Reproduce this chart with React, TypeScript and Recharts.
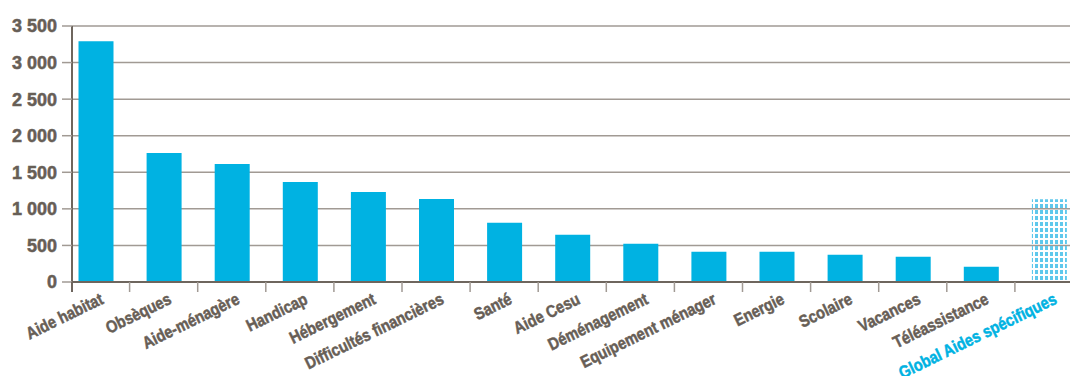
import React from 'react';
import { BarChart, Bar, Cell, XAxis, YAxis, CartesianGrid } from 'recharts';

const categories = [
  'Aide habitat',
  'Obsèques',
  'Aide-ménagère',
  'Handicap',
  'Hébergement',
  'Difficultés financières',
  'Santé',
  'Aide Cesu',
  'Déménagement',
  'Equipement ménager',
  'Energie',
  'Scolaire',
  'Vacances',
  'Téléassistance',
  'Global Aides spécifiques',
];

const amounts = [3290, 1765, 1613, 1368, 1232, 1136, 809, 645, 522, 413, 413, 372, 345, 209, 1130];

const yTicks = [0, 500, 1000, 1500, 2000, 2500, 3000, 3500];

const GLOBAL_LABEL = 'Global Aides spécifiques';

const BLUE = '#00b2e2';
const TEXT = '#675e56';
const AXIS = '#6e665e';
const GRID = '#a19a94';
const Y_AXIS_W = 72;

const data = categories.map((name, i) => ({ name, value: amounts[i] }));

const fmt = (v: number) => String(v).replace(/\B(?=(\d{3})+(?!\d))/g, ' ');

// category labels, plus the small ticks between categories
const XTick = (props: any) => {
  const { x, y, payload, index } = props;
  const half = payload.offset || 34;
  const isGlobal = payload.value === GLOBAL_LABEL;
  const color = isGlobal ? BLUE : TEXT;
  const tx = x + 9;
  const ty = y + 21;
  return (
    <g>
      {index === 0 ? (
        <line x1={Y_AXIS_W} x2={Y_AXIS_W} y1={y} y2={y + 10} stroke={AXIS} strokeWidth={2} />
      ) : (
        <line x1={x - half} x2={x - half} y1={y} y2={y + 10} stroke={GRID} strokeWidth={1.5} />
      )}
      <text
        x={0}
        y={0}
        textAnchor="end"
        transform={`translate(${tx}, ${ty}) rotate(-26) scale(0.86, 1)`}
        fill={color}
        stroke={color}
        strokeWidth={0.5}
        fontSize={17}
        fontWeight="bold"
        fontFamily="'Liberation Sans', Arial, sans-serif"
      >
        {payload.value}
      </text>
    </g>
  );
};

export default function App() {
  return (
    <div
      style={{
        position: 'absolute',
        left: 0,
        top: 0,
        width: 1070,
        height: 376,
        overflow: 'hidden',
        background: '#fff',
      }}
    >
      <BarChart width={1083} height={376} data={data} margin={{ top: 26, right: 0, bottom: 0, left: 0 }}>
        <defs>
          <pattern id="dots" width="5" height="6" patternUnits="userSpaceOnUse">
            <rect x="0" y="0" width="3" height="4" fill="#5fc8ec" />
          </pattern>
        </defs>
        <CartesianGrid vertical={false} stroke={GRID} strokeWidth={1.5} />
        <XAxis
          dataKey="name"
          interval={0}
          height={94}
          padding={{ left: -10.5, right: 0 }}
          tickLine={false}
          tickSize={0}
          tickMargin={0}
          axisLine={{ stroke: AXIS, strokeWidth: 2 }}
          tick={<XTick />}
        />
        <YAxis
          width={Y_AXIS_W}
          domain={[0, 3500]}
          ticks={yTicks}
          interval={0}
          tickFormatter={fmt}
          tickSize={10}
          tickMargin={5}
          tickLine={{ stroke: GRID, strokeWidth: 1.5 }}
          axisLine={{ stroke: AXIS, strokeWidth: 2 }}
          tick={{
            fill: TEXT,
            stroke: TEXT,
            strokeWidth: 0.5,
            fontSize: 18,
            fontWeight: 'bold',
            fontFamily: "'Liberation Sans', Arial, sans-serif",
          }}
        />
        <Bar dataKey="value" barSize={35} isAnimationActive={false}>
          {data.map((d) => (
            <Cell key={d.name} fill={d.name === GLOBAL_LABEL ? 'url(#dots)' : BLUE} />
          ))}
        </Bar>
      </BarChart>
    </div>
  );
}
